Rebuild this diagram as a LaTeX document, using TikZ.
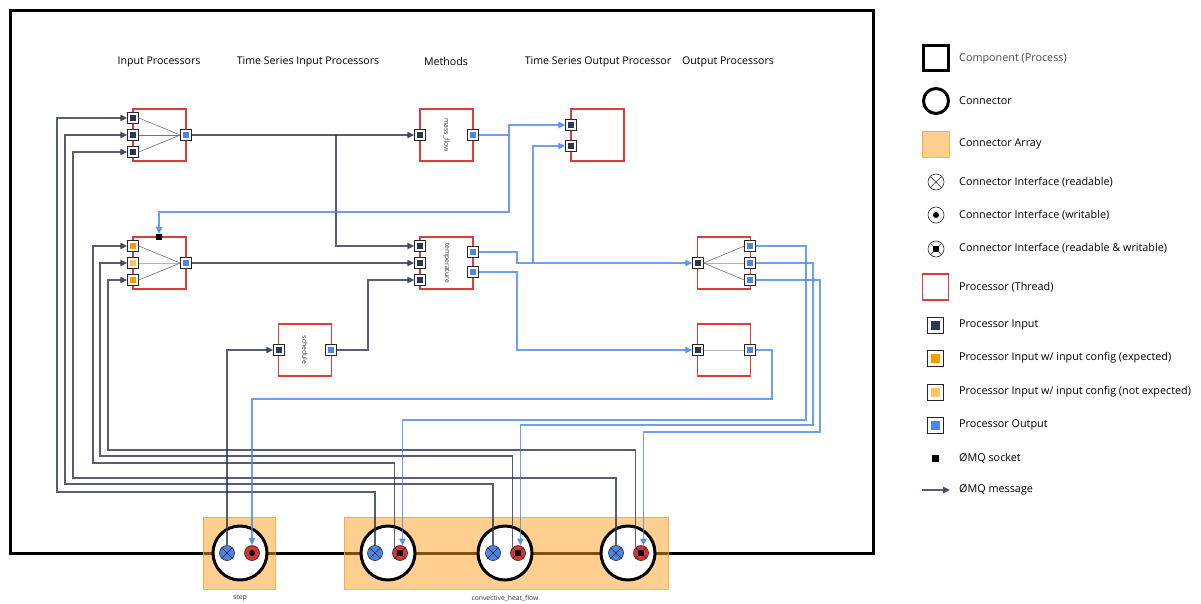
\documentclass[tikz,border=0pt]{standalone}
\usepackage{fontspec}
\setmainfont{Open Sans}
\usetikzlibrary{arrows.meta,calc}
\definecolor{navy}{HTML}{2C3552}
\definecolor{oblue}{HTML}{4A86E8}
\definecolor{pred}{HTML}{E03A3A}
\definecolor{iorange}{HTML}{FF9900}
\definecolor{lorange}{HTML}{FFC266}
\definecolor{arrcol}{HTML}{FFA020}
\definecolor{ired}{HTML}{D83232}
\begin{document}
\begin{tikzpicture}[x=1pt,y=-1pt,
  proc/.style={draw=pred, line width=1.8pt, fill=white, minimum width=53pt, minimum height=52pt, inner sep=0pt},
  portbox/.style={draw=black!85, line width=0.9pt, fill=white, minimum size=10.5pt, inner sep=0pt,
    path picture={\fill[#1] ([shift={(-3pt,-3pt)}]path picture bounding box.center) rectangle ([shift={(3pt,3pt)}]path picture bounding box.center);}},
  lport/.style={draw=black!85, line width=1pt, fill=white, minimum size=16pt, inner sep=0pt,
    path picture={\fill[#1] ([shift={(-4.5pt,-4.5pt)}]path picture bounding box.center) rectangle ([shift={(4.5pt,4.5pt)}]path picture bounding box.center);}},
  pin/.style={portbox=navy},
  pexp/.style={portbox=iorange},
  pnexp/.style={portbox=lorange},
  pout/.style={portbox=oblue},
  sockbox/.style={fill=black, minimum size=5.5pt, inner sep=0pt},
  fan/.style={draw=black!55, line width=0.6pt},
  fanl/.style={draw=black!30, line width=0.8pt},
  msg/.style={draw=navy, line width=1.3pt, opacity=0.8, -{Triangle[length=7pt,width=6.5pt]}},
  msgb/.style={draw=oblue, line width=1.3pt, opacity=0.8, -{Triangle[length=7pt,width=6.5pt]}},
  title/.style={font=\fontsize{10.6}{12}\selectfont, inner sep=0pt},
  legtxt/.style={font=\fontsize{10.8}{12}\selectfont, anchor=west, inner sep=0pt},
  plabel/.style={font=\fontsize{6.8}{8}\selectfont, rotate=-90, inner sep=0pt, text=black!80},
  clabel/.style={font=\fontsize{6.8}{8}\selectfont, inner sep=0pt, text=black!80},
  conn/.style={circle, draw=black, line width=3pt, fill=white, minimum size=54pt, inner sep=0pt},
  arrbox/.style={fill=arrcol, fill opacity=0.5, draw=arrcol, draw opacity=0.8, line width=1pt},
  ifr/.style={circle, draw=black!85, line width=0.6pt, minimum size=15pt, inner sep=0pt,
    path picture={\draw[line width=0.6pt, black!85] (path picture bounding box.north west)--(path picture bounding box.south east) (path picture bounding box.north east)--(path picture bounding box.south west);}},
  ifw/.style={circle, draw=black!85, line width=0.6pt, minimum size=15pt, inner sep=0pt,
    path picture={\fill[black] (path picture bounding box.center) circle[radius=3pt];}},
  ifrw/.style={circle, draw=black!85, line width=0.6pt, minimum size=15pt, inner sep=0pt,
    path picture={\draw[line width=0.6pt, black!85] (path picture bounding box.north west)--(path picture bounding box.south east) (path picture bounding box.north east)--(path picture bounding box.south west);
    \fill[black] ([shift={(-3pt,-3pt)}]path picture bounding box.center) rectangle ([shift={(3pt,3pt)}]path picture bounding box.center);}}
]
\useasboundingbox (0,0) rectangle (1201,603);
\fill[white] (0,0) rectangle (1201,603);

% component
\draw[line width=3pt] (10,10) rectangle (873,553);

% titles
\node[title] (t1) at (159,62) {Input Processors};
\node[title] (t2) at (308,62) {Time Series Input Processors};
\node[title] (t3) at (446,62) {Methods};
\node[title] (t4) at (598,62) {Time Series Output Processor};
\node[title] (t5) at (728,62) {Output Processors};

% connector arrays and connectors
\draw[arrbox] (203,517) rectangle (275,589);
\draw[arrbox] (344,517) rectangle (668,589);
\node[conn] (cs) at (240,553) {};
\node[conn] (c1) at (388,553) {};
\node[conn] (c2) at (505,553) {};
\node[conn] (c3) at (628,553) {};
\node[clabel] (ls) at (240,598) {step};
\node[clabel] (lc) at (505,598) {convective\_heat\_flow};

% processors
\node[proc] (P1) at (159.5,135) {};
\node[proc] (P2) at (159.5,263) {};
\node[proc] (MF) at (446.5,135) {};
\node[proc] (TM) at (446.5,263) {};
\node[proc] (TS) at (597.5,135) {};
\node[proc] (SC) at (305,350) {};
\node[proc] (O1) at (724,263) {};
\node[proc] (O2) at (724,350) {};
\node[plabel] at (MF.center) {mass\_flow};
\node[plabel] at (TM.center) {temperature};
\node[plabel] at (SC.center) {schedule};

% ports
\node[pin] (p1i1) at (133,118) {};
\node[pin] (p1i2) at (133,135) {};
\node[pin] (p1i3) at (133,152) {};
\node[pout] (p1o) at (186,135) {};
\node[pexp] (p2i1) at (133,246) {};
\node[pnexp] (p2i2) at (133,263) {};
\node[pexp] (p2i3) at (133,280) {};
\node[pout] (p2o) at (186,263) {};
\node[sockbox] (sock) at (159,237) {};
\node[pin] (mfi) at (420,135) {};
\node[pout] (mfo) at (473,135) {};
\node[pin] (tmi1) at (420,246) {};
\node[pin] (tmi2) at (420,263) {};
\node[pin] (tmi3) at (420,280) {};
\node[pout] (tmo1) at (473,252) {};
\node[pout] (tmo2) at (473,272) {};
\node[pin] (tsi1) at (571,125) {};
\node[pin] (tsi2) at (571,146) {};
\node[pin] (sci) at (279,350) {};
\node[pout] (sco) at (331,350) {};
\node[pin] (op1i) at (698,263) {};
\node[pout] (op1o1) at (750,246) {};
\node[pout] (op1o2) at (750,263) {};
\node[pout] (op1o3) at (750,280) {};
\node[pin] (op2i) at (698,350) {};
\node[pout] (op2o) at (750,350) {};

% fan lines
\draw[fan] (p1i1.east) -- (p1o.west);
\draw[fan] (p1i2.east) -- (p1o.west);
\draw[fan] (p1i3.east) -- (p1o.west);
\draw[fan] (p2i1.east) -- (p2o.west);
\draw[fanl] (p2i2.east) -- (p2o.west);
\draw[fan] (p2i3.east) -- (p2o.west);
\draw[fan] (op1i.east) -- (op1o1.west);
\draw[fanl] (op1i.east) -- (op1o2.west);
\draw[fan] (op1i.east) -- (op1o3.west);
\draw[fanl] (op2i.east) -- (op2o.west);

% interfaces
\node[ifr, fill=oblue] (bs) at (227,553) {};
\node[ifw, fill=ired] (rs) at (252,553) {};
\node[ifr, fill=oblue] (b1) at (375,553) {};
\node[ifrw, fill=ired] (r1) at (400,553) {};
\node[ifr, fill=oblue] (b2) at (493,553) {};
\node[ifrw, fill=ired] (r2) at (518,553) {};
\node[ifr, fill=oblue] (b3) at (616,553) {};
\node[ifrw, fill=ired] (r3) at (641,553) {};

% coordinates for routing
\coordinate (k1) at (368,280);
\coordinate (k2) at (509,125);
\coordinate (k3) at (509,135);
\coordinate (k4) at (159,212);
\coordinate (k5) at (517,263);
\coordinate (k6) at (533,263);
\coordinate (k7) at (517,350);
\coordinate (k8) at (806,420);
\coordinate (k9) at (813,425);
\coordinate (k10) at (820,432);
\coordinate (k11) at (772,399);
\coordinate (g1) at (57,492);
\coordinate (g2) at (65,484);
\coordinate (g3) at (73,478);
\coordinate (g4) at (93,463);
\coordinate (g5) at (100,456);
\coordinate (g6) at (108,450);
\coordinate (bb) at (336,135);

% navy messages
\draw[msg] (p1o) -- (mfi);
\draw[msg] (bb) |- (tmi1);
\draw[msg] (p2o) -- (tmi2);
\draw[msg] (sco) -| (k1) -- (tmi3);
\draw[msg] (bs.north) |- (sci);
\draw[msg] (b1.north) |- (g1) |- (p1i1);
\draw[msg] (b2.north) |- (g2) |- (p1i2);
\draw[msg] (b3.north) |- (g3) |- (p1i3);
\draw[msg] (r1.135) |- (g4) |- (p2i1);
\draw[msg] (r2.135) |- (g5) |- (p2i2);
\draw[msg] (r3.135) |- (g6) |- (p2i3);

% blue messages
\draw[msgb] (mfo) -| (k2) -- (tsi1);
\draw[msgb] (k3) |- (k4) -- (sock.north);
\draw[msgb] (tmo1) -| (k5) -- (op1i);
\draw[msgb] (k6) |- (tsi2);
\draw[msgb] (tmo2) -| (k7) -- (op2i);
\draw[msgb] (op1o1) -| (k8) -| (r1.72);
\draw[msgb] (op1o2) -| (k9) -| (r2.72);
\draw[msgb] (op1o3) -| (k10) -| (r3.72);
\draw[msgb] (op2o) -| (k11) -| (rs.north);

% legend
\node[draw=black, line width=3pt, minimum size=25pt, inner sep=0pt] (L1) at (936,58) {};
\node[legtxt, text=black!70] at (959,59) {Component (Process)};
\node[circle, draw=black, line width=3pt, minimum size=25pt, inner sep=0pt] (L2) at (936,101) {};
\node[legtxt] at (959,101) {Connector};
\draw[arrbox] (922,131) rectangle (949,157);
\node[legtxt] at (959,144) {Connector Array};
\node[ifr, fill=white, minimum size=16pt] (L4) at (936,182) {};
\node[legtxt] at (959,182) {Connector Interface (readable)};
\node[ifw, fill=white, minimum size=16pt] (L5) at (936,215) {};
\node[legtxt] at (959,215) {Connector Interface (writable)};
\node[ifrw, fill=white, minimum size=16pt] (L6) at (936,249) {};
\node[legtxt] at (959,248) {Connector Interface (readable \& writable)};
\node[draw=pred, line width=1.8pt, minimum size=26pt, inner sep=0pt] (L7) at (935.5,287) {};
\node[legtxt] at (959,287) {Processor (Thread)};
\node[lport=navy] (L8) at (935,325) {};
\node[legtxt] at (959,325) {Processor Input};
\node[lport=iorange] (L9) at (935,358) {};
\node[legtxt] at (959,358) {Processor Input w/ input config (expected)};
\node[lport=lorange] (L10) at (935,392) {};
\node[legtxt] at (959,392) {Processor Input w/ input config (not expected)};
\node[lport=oblue] (L11) at (935,425) {};
\node[legtxt] at (959,425) {Processor Output};
\node[sockbox, minimum size=7pt] (L12) at (935,458) {};
\node[legtxt] at (959,458) {ØMQ socket};
\coordinate (m1) at (922,490);
\coordinate (m2) at (950,490);
\draw[msg] (m1) -- (m2);
\node[legtxt] at (959,490) {ØMQ message};
\end{tikzpicture}
\end{document}
